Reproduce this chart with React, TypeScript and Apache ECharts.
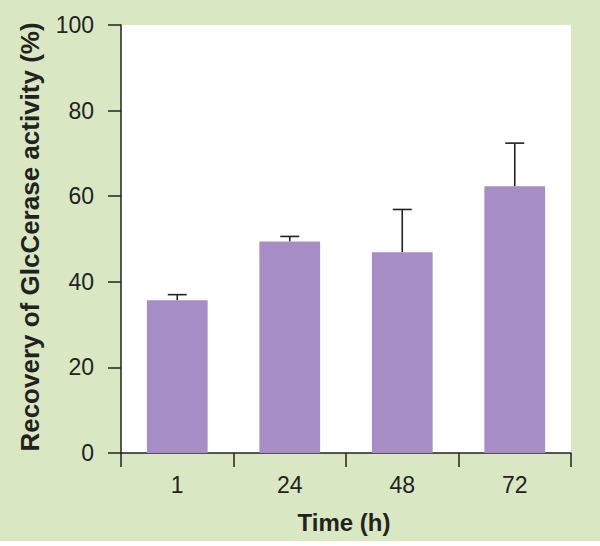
import React, { useEffect, useRef } from "react";
import * as echarts from "echarts";

const categories = ["1", "24", "48", "72"];
const means = [35.7, 49.4, 46.9, 62.3];
const upper = [37.0, 50.6, 56.9, 72.4];
const yTicks = [0, 20, 40, 60, 80, 100];
const yTitle = "Recovery of GlcCerase activity (%)";
const xTitle = "Time (h)";

export default function App() {
  const ref = useRef<HTMLDivElement>(null);
  useEffect(() => {
    if (!ref.current) return;
    document.body.style.margin = "0";
    const chart = echarts.init(ref.current, null, { renderer: "svg" });
    const font = "'Liberation Sans', Arial, Helvetica, sans-serif";
    const ink = "#222222";
    chart.setOption({
      animation: false,
      backgroundColor: "#d9e8c2",
      grid: {
        left: 121,
        top: 25,
        width: 450,
        height: 428,
        show: true,
        backgroundColor: "#ffffff",
        borderWidth: 0,
      },
      xAxis: {
        type: "category",
        data: categories,
        boundaryGap: true,
        axisLine: { lineStyle: { color: ink, width: 1.5 } },
        axisTick: { show: true, length: 14, alignWithLabel: false, lineStyle: { color: ink, width: 1.5 } },
        axisLabel: { color: ink, fontSize: 23, fontFamily: font, margin: 20 },
      },
      yAxis: {
        type: "value",
        min: yTicks[0],
        max: yTicks[yTicks.length - 1],
        interval: 20,
        axisLine: { show: true, lineStyle: { color: ink, width: 1.5 } },
        axisTick: { show: true, length: 13, lineStyle: { color: ink, width: 1.5 } },
        axisLabel: { color: ink, fontSize: 23, fontFamily: font, margin: 27 },
        splitLine: { show: false },
      },
      series: [
        {
          type: "bar",
          data: means,
          barWidth: "54%",
          itemStyle: { color: "#a68dc5" },
          z: 2,
        },
        {
          type: "custom",
          data: means.map((m, i) => [i, m, upper[i]]),
          z: 1,
          renderItem: (params: any, api: any) => {
            const i = api.value(0);
            const base = api.coord([i, api.value(1)]);
            const top = api.coord([i, api.value(2)]);
            const half = 9.5;
            const style = { stroke: ink, lineWidth: 1.6, fill: "none" };
            return {
              type: "group",
              children: [
                { type: "line", shape: { x1: base[0], y1: base[1], x2: top[0], y2: top[1] }, style },
                { type: "line", shape: { x1: top[0] - half, y1: top[1], x2: top[0] + half, y2: top[1] }, style },
              ],
            };
          },
        },
      ],
      graphic: [
        {
          type: "text",
          x: 30,
          y: 237,
          rotation: Math.PI / 2,
          style: {
            text: yTitle,
            fill: ink,
            font: `bold 26px ${font}`,
            textAlign: "center",
            textVerticalAlign: "middle",
          },
        },
        {
          type: "text",
          x: 344,
          y: 522,
          style: {
            text: xTitle,
            fill: ink,
            font: `bold 24px ${font}`,
            textAlign: "center",
            textVerticalAlign: "middle",
          },
        },
        {
          type: "rect",
          shape: { x: 0, y: 541, width: 600, height: 5 },
          style: { fill: "#ffffff" },
          silent: true,
        },
      ],
    });
    return () => chart.dispose();
  }, []);
  return (
    <div
      ref={ref}
      style={{ position: "absolute", left: 0, top: 0, width: 600, height: 546 }}
    />
  );
}
